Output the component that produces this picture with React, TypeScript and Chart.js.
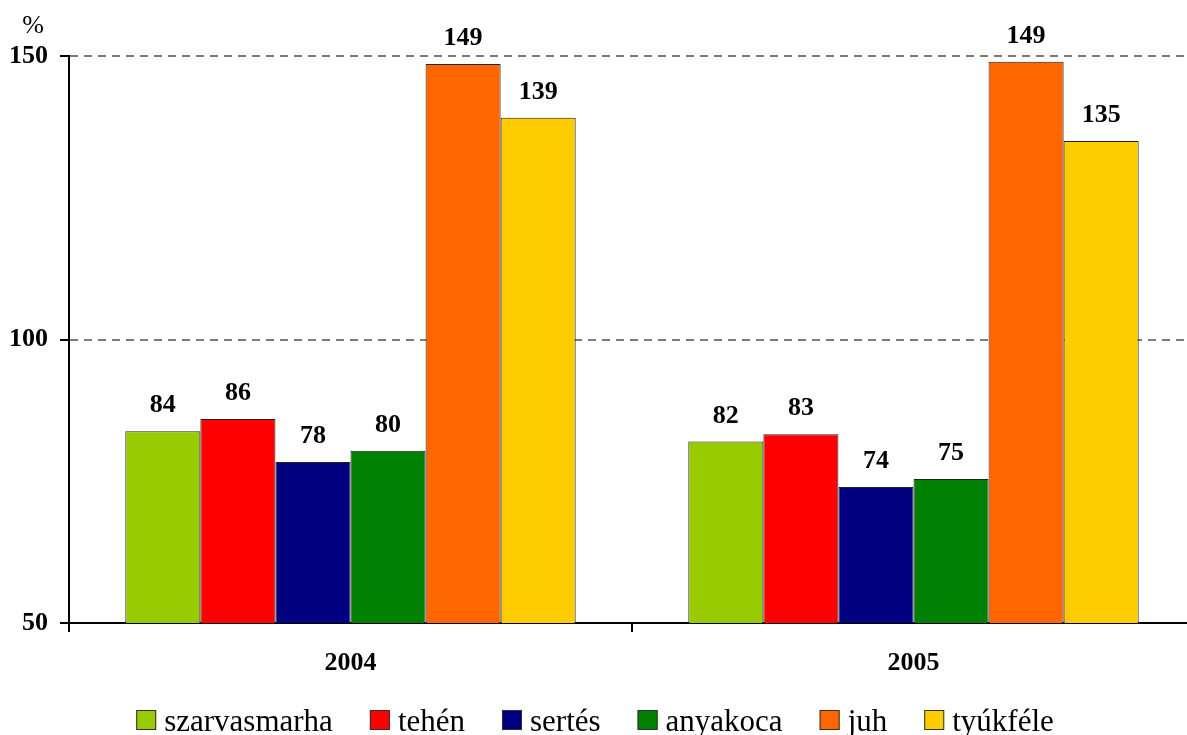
import React, { useEffect, useRef } from "react";
import { Chart, registerables } from "chart.js";

Chart.register(...registerables);

const categories = ["2004", "2005"];
const seriesNames = ["szarvasmarha", "tehén", "sertés", "anyakoca", "juh", "tyúkféle"];
const szarvasmarha = [83.8, 82.0];
const tehen = [86.0, 83.3];
const sertes = [78.4, 74.0];
const anyakoca = [80.4, 75.4];
const juh = [148.6, 149.0];
const tyukfele = [139.1, 135.0];
const seriesValues = [szarvasmarha, tehen, sertes, anyakoca, juh, tyukfele];
const seriesColors = ["#99CC00", "#FF0000", "#000080", "#008000", "#FF6600", "#FFCC00"];
const yTicks = [50, 100, 150];
const unitLabel = "%";

const FONT = '"Liberation Serif", "Times New Roman", serif';

const valueLabelPlugin = {
  id: "valueLabels",
  afterDatasetsDraw(chart: any) {
    const ctx = chart.ctx;
    ctx.save();
    ctx.font = `bold 26px ${FONT}`;
    ctx.fillStyle = "#000";
    ctx.textAlign = "center";
    ctx.textBaseline = "alphabetic";
    chart.data.datasets.forEach((ds: any, di: number) => {
      const meta = chart.getDatasetMeta(di);
      meta.data.forEach((el: any, i: number) => {
        const v = ds.data[i];
        ctx.fillText(String(Math.round(v)), el.x, el.y - 19);
      });
    });
    ctx.restore();
  },
};

const extrasPlugin = {
  id: "extras",
  afterDraw(chart: any) {
    const ctx = chart.ctx;
    ctx.save();
    // unit label
    ctx.font = `26px ${FONT}`;
    ctx.fillStyle = "#000";
    ctx.textAlign = "center";
    ctx.textBaseline = "alphabetic";
    ctx.fillText(unitLabel, 33, 33);

    // legend
    const fontSize = 31;
    ctx.font = `${fontSize}px ${FONT}`;
    const box = 20;
    const boxGap = 8;
    const itemGap = 37;
    const widths = seriesNames.map((n) => ctx.measureText(n).width);
    const total =
      widths.reduce((a, b) => a + b, 0) + seriesNames.length * (box + boxGap) + (seriesNames.length - 1) * itemGap;
    let x = 595 - total / 2;
    const boxTop = 710;
    const baseline = 731;
    ctx.textAlign = "left";
    seriesNames.forEach((name, i) => {
      ctx.fillStyle = seriesColors[i];
      ctx.fillRect(x, boxTop, box, box);
      ctx.strokeStyle = "#303030";
      ctx.lineWidth = 1;
      ctx.strokeRect(x + 0.5, boxTop + 0.5, box - 1, box - 1);
      ctx.fillStyle = "#000";
      ctx.fillText(name, x + box + boxGap, baseline);
      x += box + boxGap + widths[i] + itemGap;
    });
    ctx.restore();
  },
};

export default function App() {
  const ref = useRef<HTMLCanvasElement>(null);
  useEffect(() => {
    if (!ref.current) return;
    const chart = new Chart(ref.current, {
      type: "bar",
      data: {
        labels: categories,
        datasets: seriesNames.map((name, i) => ({
          label: name,
          data: seriesValues[i],
          backgroundColor: seriesColors[i],
          borderColor: "#222222",
          borderWidth: 1,
          borderSkipped: false,
          categoryPercentage: 0.8,
          barPercentage: 1.0,
        })),
      },
      options: {
        responsive: false,
        animation: false,
        events: [],
        layout: { padding: { top: 56, right: 5, left: 0, bottom: 0 } },
        plugins: {
          legend: { display: false },
          tooltip: { enabled: false },
          title: { display: false },
        },
        scales: {
          x: {
            grid: {
              display: true,
              offset: true,
              drawOnChartArea: false,
              drawTicks: true,
              tickLength: 9,
              tickColor: "#000",
              tickWidth: 2,
              color: "#000",
              lineWidth: 2,
            },
            border: { display: true, color: "#000", width: 2 },
            ticks: {
              color: "#000",
              font: { family: FONT, size: 26, weight: "bold" },
              padding: 16,
            },
            afterFit(scale: any) {
              scale.height = 112;
            },
          },
          y: {
            min: yTicks[0],
            max: yTicks[yTicks.length - 1],
            afterBuildTicks(scale: any) {
              scale.ticks = yTicks.map((v) => ({ value: v }));
            },
            grid: {
              color: (c: any) => (c.tick && c.tick.value === yTicks[0] ? "rgba(0,0,0,0)" : "#7a7a7a"),
              lineWidth: 2,
              drawTicks: true,
              tickLength: 9,
              tickColor: "#000",
              tickWidth: 2,
            },
            border: { display: true, color: "#000", width: 2, dash: [8, 6] },
            ticks: {
              color: "#000",
              font: { family: FONT, size: 26, weight: "bold" },
              padding: 12,
            },
            afterFit(scale: any) {
              scale.width = 69;
            },
          },
        },
      },
      plugins: [valueLabelPlugin, extrasPlugin],
    } as any);
    return () => chart.destroy();
  }, []);
  return (
    <div
      style={{
        position: "fixed",
        left: 0,
        top: 0,
        width: 1187,
        height: 735,
        overflow: "hidden",
        background: "#fff",
      }}
    >
      <canvas ref={ref} width={1200} height={735} style={{ width: 1200, height: 735, display: "block" }} />
    </div>
  );
}
